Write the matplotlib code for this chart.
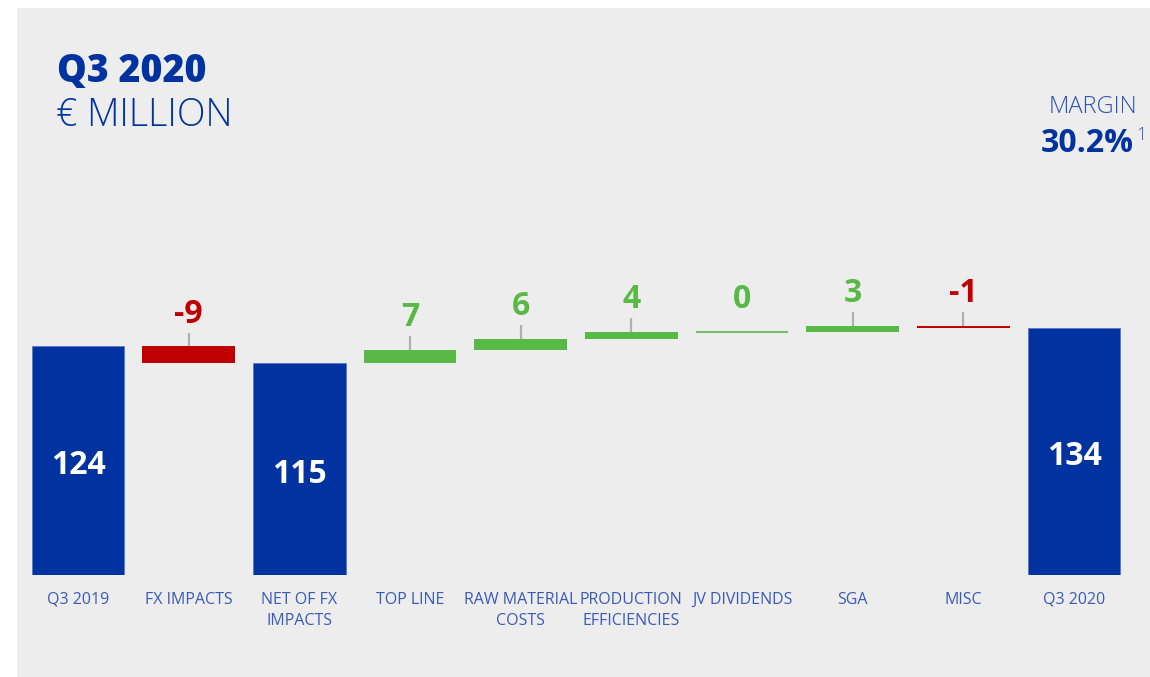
import matplotlib
matplotlib.use("Agg")
from matplotlib import pyplot as plt
from matplotlib.patches import Rectangle

# waterfall data (EUR million)
categories = ["Q3 2019", "FX IMPACTS", "NET OF FX\nIMPACTS", "TOP LINE", "RAW MATERIAL\nCOSTS",
              "PRODUCTION\nEFFICIENCIES", "JV DIVIDENDS", "SGA", "MISC", "Q3 2020"]
amounts = [124, -9, 115, 7, 6, 4, 0, 3, -1, 134]
is_total = [True, False, True, False, False, False, False, False, False, True]

BLUE = "#0033a0"
RED = "#c00000"
GREEN = "#58b947"
LABEL = "#3a5ab8"
BG = "#ededed"

plt.rcParams["font.family"] = ["Open Sans", "DejaVu Sans"]

fig = plt.figure(figsize=(11.5, 6.77), dpi=100)
fig.patch.set_facecolor("white")
fig.patches.append(Rectangle((17 / 1150, 0), 1, (677 - 8) / 677, transform=fig.transFigure,
                             facecolor=BG, edgecolor="none", zorder=-10))

# axes: bar baseline at y=575px, 1.843 px per unit
ax = fig.add_axes([0, (677 - 575) / 677, 1, 375 / 677])
ax.set_facecolor("none")
ax.set_xlim(-78 / 110.67, (1150 - 78) / 110.67)
ax.set_ylim(0, 375 / 1.843)
ax.axis("off")

running = 0
for i, (cat, v, tot) in enumerate(zip(categories, amounts, is_total)):
    if tot:
        ax.bar(i, v, width=0.835, color=BLUE, edgecolor="#5a78c8", linewidth=0.6)
        ax.text(i, v / 2 - 7.4, str(v), ha="center", va="baseline", color="white",
                fontsize=23, fontweight="bold")
        running = v
    else:
        col = GREEN if v >= 0 else RED
        start = running
        running = running + v
        top = max(start, running)
        if v == 0:
            ax.hlines(running, i - 0.4175, i + 0.4175, color=GREEN, lw=1.2)
        else:
            ax.bar(i, abs(v), bottom=min(start, running), width=0.835, color=col)
            ax.plot([i, i], [top, top + 7.5], color="#b0b0b0", lw=1.6, solid_capstyle="butt")
        ax.text(i, top + 13, str(v), ha="center", va="baseline", color=col,
                fontsize=23, fontweight="bold")
    ax.text(i, -9, cat, ha="center", va="top", color=LABEL, fontsize=11.5,
            linespacing=1.45, clip_on=False)

# headings
fig.text(57 / 1150, 1 - 82 / 677, "Q3 2020", color=BLUE, fontsize=27, fontweight="heavy",
         ha="left", va="baseline")
fig.text(56 / 1150, 1 - 126 / 677, "€ MILLION", color=BLUE, fontsize=27, fontweight="light",
         ha="left", va="baseline")
fig.text(1137 / 1150, 1 - 113 / 677, "MARGIN", color="#2f52b4", fontsize=17, fontweight="light",
         ha="right", va="baseline")
fig.text(1134 / 1150, 1 - 152 / 677, "30.2%", color=BLUE, fontsize=23, fontweight="bold",
         ha="right", va="baseline")
fig.text(1136 / 1150, 1 - 140 / 677, "1", color="#3a5ab8", fontsize=13, fontweight="light",
         ha="left", va="baseline")

fig.savefig("out.png", dpi=100, facecolor=fig.get_facecolor())
